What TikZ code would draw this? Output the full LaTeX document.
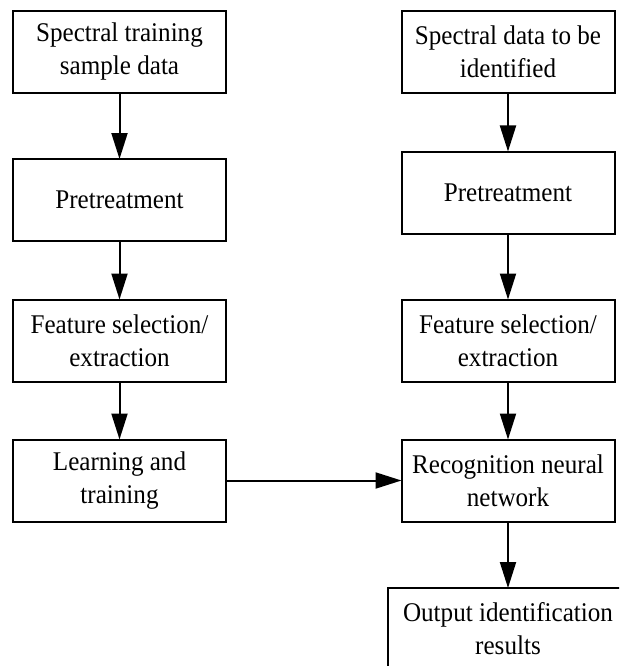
\documentclass[tikz,border=0pt]{standalone}
\usepackage{fontspec}
\setmainfont{Liberation Serif}[FakeStretch=0.93]
\usepackage{tikz}
\usetikzlibrary{positioning, arrows.meta}
\tikzset{
		flow box/.style={
			rectangle,
			draw=black,
			line width=2pt,
			align=center,
			minimum width=213pt,
			minimum height=82pt,
			inner sep=0pt,
			outer sep=0pt,
			font=\fontsize{27pt}{33pt}\selectfont
		},
		flow arrow/.style={
			line width=2pt,
			-{Triangle[length=26pt, width=16pt]}
		}
	}
\begin{document}
\begin{tikzpicture}[x=1pt, y=-1pt]
			\useasboundingbox (0,0) rectangle (619,666);
			\clip (0,0) rectangle (619,666);
			% training branch
			\node [flow box] (trainData) at (119.5,52) {Spectral training\\sample data};
			\node [flow box] (trainPre) at (119.5,200) {Pretreatment};
			\node [flow box] (trainFeat) at (119.5,340.5) {Feature selection/\\extraction};
			\node [flow box] (learn) at (119.5,480.5) {Learning and\\training};
			% identification branch
			\node [flow box] (idData) at (508,52) {Spectral data to be\\identified};
			\node [flow box] (idPre) at (508,192.5) {Pretreatment};
			\node [flow box] (idFeat) at (508,340.5) {Feature selection/\\extraction};
			\node [flow box] (recog) at (508,480.5) {Recognition neural\\network};
			\node [flow box, minimum width=240pt] (output) at (508,629) {Output identification\\results};
			\draw [flow arrow] (trainData) -- (trainPre);
			\draw [flow arrow] (trainPre) -- (trainFeat);
			\draw [flow arrow] (trainFeat) -- (learn);
			\draw [flow arrow] (idData) -- (idPre);
			\draw [flow arrow] (idPre) -- (idFeat);
			\draw [flow arrow] (idFeat) -- (recog);
			\draw [flow arrow] (recog) -- (output);
			\draw [flow arrow] (learn) -- (recog);
		\end{tikzpicture}
\end{document}
